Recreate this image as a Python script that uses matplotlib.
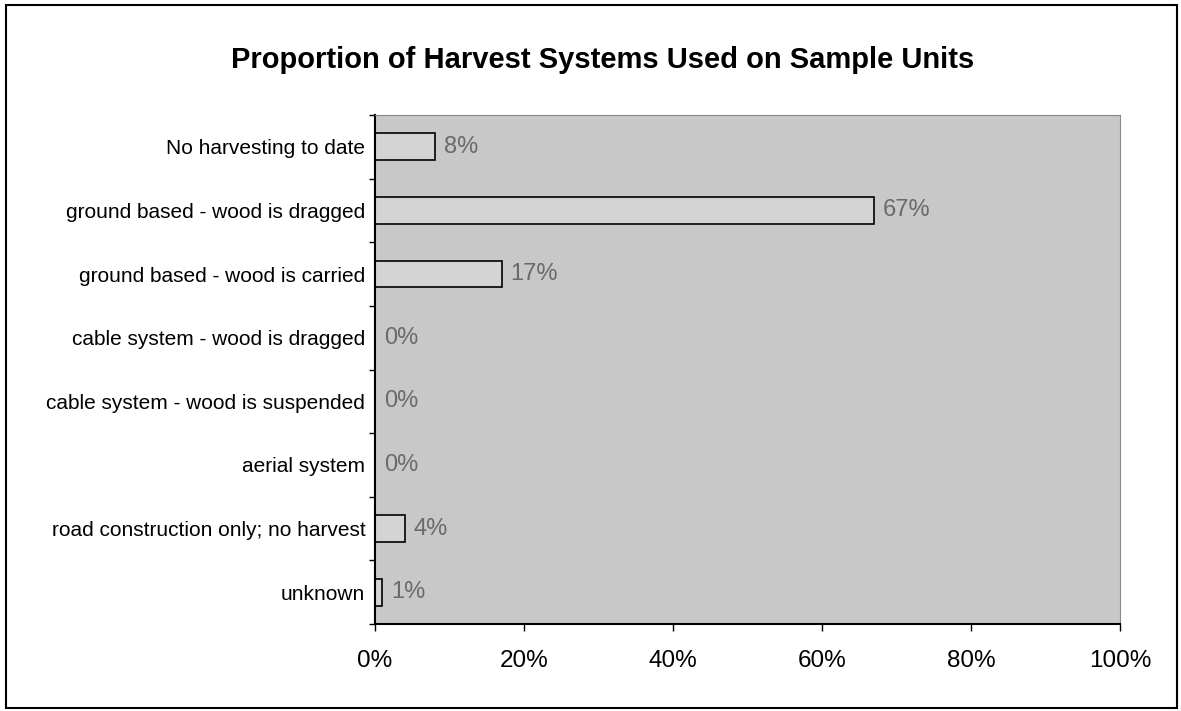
import matplotlib
matplotlib.use("Agg")
import matplotlib.pyplot as plt
from matplotlib.patches import Rectangle

plt.rcParams['font.family'] = ['Liberation Sans', 'DejaVu Sans']

categories = [
    "No harvesting to date",
    "ground based - wood is dragged",
    "ground based - wood is carried",
    "cable system - wood is dragged",
    "cable system - wood is suspended",
    "aerial system",
    "road construction only; no harvest",
    "unknown",
]
shares = [8, 67, 17, 0, 0, 0, 4, 1]
x_ticks = [0, 20, 40, 60, 80, 100]

fig = plt.figure(figsize=(11.81, 7.11), dpi=100)
ax = fig.add_axes([375 / 1181, 1 - 624 / 711, 745 / 1181, 509 / 711])

# outer chart border
fig.patches.append(Rectangle((6 / 1181, 3 / 711), 1171 / 1181, 703 / 711,
                             transform=fig.transFigure, fill=False,
                             edgecolor='black', linewidth=1.5))

ypos = list(range(len(categories)))
ax.set_facecolor('#c8c8c8')
ax.barh(ypos, shares, height=0.42, color='#d4d4d4', edgecolor='black',
        linewidth=1.2)
for y, v in zip(ypos, shares):
    ax.text(v + 1.2, y, f"{v}%", va='center', ha='left', fontsize=17,
            color='#6a6a6a')

ax.set_xlim(0, 100)
ax.set_ylim(len(categories) - 0.5, -0.5)
ax.set_yticks(ypos)
ax.set_yticklabels(categories, fontsize=15)
ax.set_yticks([i + 0.5 for i in range(-1, len(categories))], minor=True)
ax.tick_params(axis='y', which='major', length=0, pad=7)
ax.tick_params(axis='y', which='minor', length=4, width=1)
ax.set_xticks(x_ticks)
ax.set_xticklabels([f"{t}%" for t in x_ticks], fontsize=17.5)
ax.tick_params(axis='x', length=5, width=1, pad=14)

for side in ('top', 'right'):
    ax.spines[side].set_color('#888888')
ax.spines['left'].set_linewidth(1.5)
ax.spines['bottom'].set_linewidth(1.5)

fig.text(603 / 1181, 1 - 60 / 711, "Proportion of Harvest Systems Used on Sample Units",
         ha='center', va='center', fontsize=21, fontweight='bold')

fig.savefig("out.png", dpi=100)
